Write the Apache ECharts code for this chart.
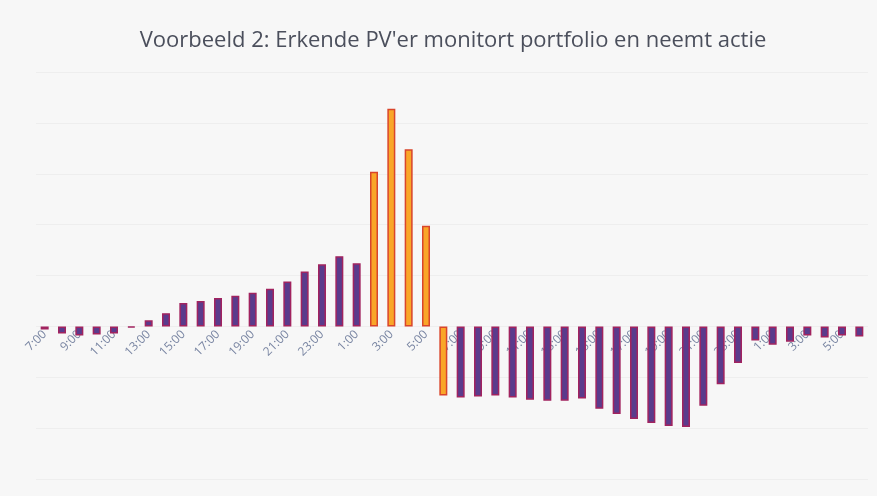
<!DOCTYPE html>
<html>
<head>
<meta charset="utf-8">
<script src="https://cdn.jsdelivr.net/npm/echarts@6/dist/echarts.min.js"></script>
<style>
  html, body { margin: 0; padding: 0; background: #f7f7f7; }
  #chart { width: 877px; height: 496px; }
</style>
</head>
<body>
<div id="chart"></div>
<script>
// uren: 7:00 dag 1 t/m 6:00 dag 3
const hours = [
  "7:00", "8:00", "9:00", "10:00", "11:00", "12:00", "13:00", "14:00", "15:00", "16:00",
  "17:00", "18:00", "19:00", "20:00", "21:00", "22:00", "23:00", "0:00", "1:00", "2:00",
  "3:00", "4:00", "5:00", "6:00", "7:00", "8:00", "9:00", "10:00", "11:00", "12:00",
  "13:00", "14:00", "15:00", "16:00", "17:00", "18:00", "19:00", "20:00", "21:00", "22:00",
  "23:00", "0:00", "1:00", "2:00", "3:00", "4:00", "5:00", "6:00"
];
const values = [
  -3, -7, -9, -8, -7, -1, 6, 13, 23, 25,
  28, 30, 33, 37, 44, 54, 61, 69, 62, 152,
  214, 174, 99, -68, -70, -69, -68, -70, -72, -73,
  -73, -71, -81, -86, -91, -95, -98, -99, -78, -57,
  -36, -14, -18, -15, -9, -11, -9, -10
];
// uren waarin actie genomen wordt (oranje)
const actionIdx = [19, 20, 21, 22, 23];

const yMin = -150;
const yMax = 250;
const gridTop = 72;
const gridBottom = 17;
const chartH = 496;

const chart = echarts.init(document.getElementById("chart"));

// x-as op de nullijn leggen
const plotH = chartH - gridTop - gridBottom;
const zeroY = gridTop + plotH * yMax / (yMax - yMin);
const xOffset = -((chartH - gridBottom) - zeroY);

const barData = values.map((v, i) => {
  if (actionIdx.indexOf(i) >= 0) {
    return {
      value: v,
      itemStyle: { color: "#f9a628", borderColor: "#d9452b" }
    };
  }
  return v;
});

chart.setOption({
  backgroundColor: "#f7f7f7",
  animation: false,
  title: {
    text: "Voorbeeld 2: Erkende PV'er monitort portfolio en neemt actie",
    left: 448,
    textAlign: "center",
    top: 25,
    textStyle: {
      fontFamily: "Open Sans",
      fontWeight: "normal",
      fontSize: 22,
      color: "#4b4f5c"
    }
  },
  grid: {
    left: 36,
    right: 9,
    top: gridTop,
    bottom: gridBottom,
    outerBoundsMode: "none",
    containLabel: false
  },
  xAxis: {
    type: "category",
    data: hours,
    offset: xOffset,
    axisLine: { show: false, onZero: false },
    axisTick: { show: false },
    axisLabel: {
      interval: 1,
      rotate: 45,
      margin: 6,
      fontFamily: "Open Sans",
      fontSize: 12,
      color: "#7a86a3"
    }
  },
  yAxis: {
    type: "value",
    min: yMin,
    max: yMax,
    interval: 50,
    axisLabel: { show: false },
    axisLine: { show: false },
    axisTick: { show: false },
    splitLine: {
      lineStyle: { color: "#eeeeee", width: 1 }
    }
  },
  series: [
    {
      type: "bar",
      data: barData,
      barWidth: 8,
      zlevel: 1, // staven over de aslabels
      itemStyle: {
        color: "#5a3b8c",
        borderColor: "#a1235f",
        borderWidth: 1.5
      }
    }
  ]
});
</script>
</body>
</html>
